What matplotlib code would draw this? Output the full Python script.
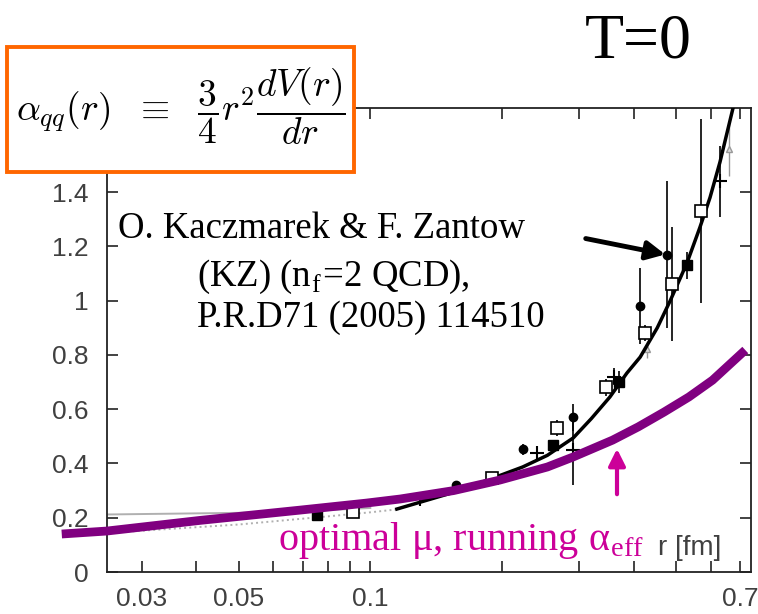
import numpy as np
import matplotlib
matplotlib.use("Agg")
import matplotlib.pyplot as plt
from matplotlib.patches import Rectangle, FancyArrowPatch
from matplotlib.ticker import FixedLocator, FixedFormatter, NullFormatter

plt.rcParams['mathtext.fontset'] = 'cm'

# optimal-mu running alpha_eff (purple)
r_opt = [0.0197, 0.025, 0.0407, 0.069, 0.098, 0.117, 0.155, 0.198, 0.254, 0.291, 0.358, 0.41, 0.469, 0.535, 0.606, 0.72]
a_opt = [0.140, 0.151, 0.19, 0.228, 0.254, 0.269, 0.30, 0.339, 0.387, 0.424, 0.486, 0.535, 0.589, 0.645, 0.707, 0.818]

# KZ fit curve (black)
r_fit = [0.115, 0.160, 0.223, 0.254, 0.291, 0.32, 0.353, 0.386, 0.414, 0.453, 0.485, 0.53, 0.567, 0.598, 0.63, 0.675, 0.69]
a_fit = [0.232, 0.30, 0.387, 0.43, 0.494, 0.565, 0.645, 0.733, 0.792, 0.90, 1.0, 1.14, 1.27, 1.38, 1.51, 1.71, 1.78]

# perturbative reference curves (gray)
r_pert = [0.025, 0.05, 0.075, 0.1]
a_pert = [0.212, 0.218, 0.226, 0.236]
r_dot = [0.025, 0.05, 0.08, 0.1, 0.117]
a_dot = [0.144, 0.175, 0.205, 0.22, 0.232]

# lattice data
r_fcirc = [0.157, 0.223, 0.29, 0.414, 0.478]
a_fcirc = [0.32, 0.453, 0.57, 0.98, 1.17]
e_fcirc = [0.01, 0.02, 0.05, 0.14, 0.27]

r_fsq = [0.0757, 0.262, 0.37, 0.53]
a_fsq = [0.21, 0.467, 0.70, 1.13]
e_fsq = [0.01, 0.015, 0.04, 0.05]

r_osq = [0.0912, 0.190, 0.267, 0.346, 0.425, 0.49, 0.57]
a_osq = [0.22, 0.346, 0.53, 0.68, 0.88, 1.06, 1.33]
e_osq = [0.005, 0.01, 0.03, 0.03, 0.03, 0.21, 0.34]

r_plus = [0.13, 0.24, 0.29, 0.36, 0.63]
a_plus = [0.27, 0.44, 0.45, 0.72, 1.44]
e_plus = [0.01, 0.015, 0.13, 0.03, 0.13]

r_tri = [0.30, 0.43, 0.66]
a_tri = [0.44, 0.82, 1.56]
e_tri = [0.01, 0.03, 0.1]

xticks_major = [0.03, 0.05, 0.1, 0.7]
xtick_labels = ['0.03', '0.05', '0.1', '0.7']
xticks_minor = [0.04, 0.06, 0.07, 0.08, 0.09, 0.2, 0.3, 0.4, 0.5, 0.6]
yticks = [0, 0.2, 0.4, 0.6, 0.8, 1.0, 1.2, 1.4]
ytick_labels = ['0', '0.2', '0.4', '0.6', '0.8', '1', '1.2', '1.4']

W, H = 758, 614
fig = plt.figure(figsize=(W / 100, H / 100), dpi=100)
ax = fig.add_axes([107 / W, 1 - 572 / H, 644 / W, 464 / H])

ax.plot(r_pert, a_pert, color='#b0b0b0', lw=1.4, zorder=1)
ax.plot(r_dot, a_dot, color='#b0b0b0', lw=1.4, ls=':', zorder=1)
ax.plot(r_fit, a_fit, color='black', lw=2.5, zorder=3)

ax.errorbar(r_tri, a_tri, yerr=e_tri, fmt='^', ms=5, color='#999999', mfc='#dddddd', lw=1, zorder=2)
ax.errorbar(r_plus, a_plus, yerr=e_plus, fmt='+', ms=10, mew=1.5, color='black', lw=1.2, zorder=4)
ax.errorbar(r_osq, a_osq, yerr=e_osq, fmt='s', ms=8, mfc='white', mec='black', mew=1.2, color='black', lw=1.2, zorder=4)
ax.errorbar(r_fsq, a_fsq, yerr=e_fsq, fmt='s', ms=7, color='black', lw=1.2, zorder=4)
ax.errorbar(r_fcirc, a_fcirc, yerr=e_fcirc, fmt='o', ms=6, color='black', lw=1.2, zorder=4)

ax.plot(r_opt, a_opt, color='#800080', lw=6.3, solid_capstyle='butt', clip_on=False, zorder=6)

ax.set_xscale('log')
ax.set_xlim(0.025, 0.742)
ax.set_ylim(0, 1.71)
ax.xaxis.set_major_locator(FixedLocator(xticks_major))
ax.xaxis.set_major_formatter(FixedFormatter(xtick_labels))
ax.xaxis.set_minor_locator(FixedLocator(xticks_minor))
ax.xaxis.set_minor_formatter(NullFormatter())
ax.yaxis.set_major_locator(FixedLocator(yticks))
ax.yaxis.set_major_formatter(FixedFormatter(ytick_labels))

for sp in ax.spines.values():
    sp.set_color('#222222')
    sp.set_linewidth(1.3)
ax.tick_params(which='both', direction='in', length=8, width=1.2, color='#222222',
               top=True, right=True, labelsize=19, labelcolor='#404040')
ax.tick_params(axis='x', which='both', pad=11)
ax.tick_params(axis='y', pad=13)
for lab in ax.get_xticklabels() + ax.get_yticklabels():
    lab.set_family('Liberation Sans')

fig.text(658 / W, 1 - 555 / H, 'r [fm]', fontsize=20,
         family='Liberation Sans', color='#404040', va='baseline')

# formula box
box = Rectangle((7 / W, 1 - 172 / H), 347 / W, 125 / H, transform=fig.transFigure,
                facecolor='white', edgecolor='#FF6600', lw=2.8, zorder=5)
fig.patches.append(box)
fig.text(181 / W, 1 - 106 / H, r'$\alpha_{qq}(r)\ \ \equiv\ \ \dfrac{3}{4}r^2\dfrac{dV(r)}{dr}$',
         fontsize=27, ha='center', va='center', zorder=6)

fig.text(585 / W, 1 - 57 / H, 'T=0', fontsize=46, family='Liberation Serif', va='baseline')

serif = dict(family='Liberation Serif', va='baseline', fontsize=26.5)
fig.text(118 / W, 1 - 238 / H, 'O. Kaczmarek & F. Zantow', **serif)
fig.text(197 / W, 1 - 286 / H, r'(KZ) (n$_\mathregular{f}$=2 QCD),', **serif)
fig.text(197 / W, 1 - 327 / H, 'P.R.D71 (2005) 114510', **serif)

fig.add_artist(FancyArrowPatch(
    (583 / W, 1 - 238 / H), (668 / W, 1 - 255 / H), transform=fig.transFigure,
    arrowstyle='-|>', mutation_scale=28, lw=3.5, color='black', zorder=7))

fig.text(278 / W, 1 - 550 / H, r'optimal μ, running α$_\mathregular{eff}$', family='Liberation Serif',
         fontsize=29, color='#CC0099', va='baseline', zorder=7)
fig.add_artist(FancyArrowPatch(
    (617 / W, 1 - 497 / H), (617 / W, 1 - 446 / H), transform=fig.transFigure,
    arrowstyle='-|>', mutation_scale=25, lw=3, color='#CC0099', zorder=7))

fig.savefig('out.png', dpi=100)
